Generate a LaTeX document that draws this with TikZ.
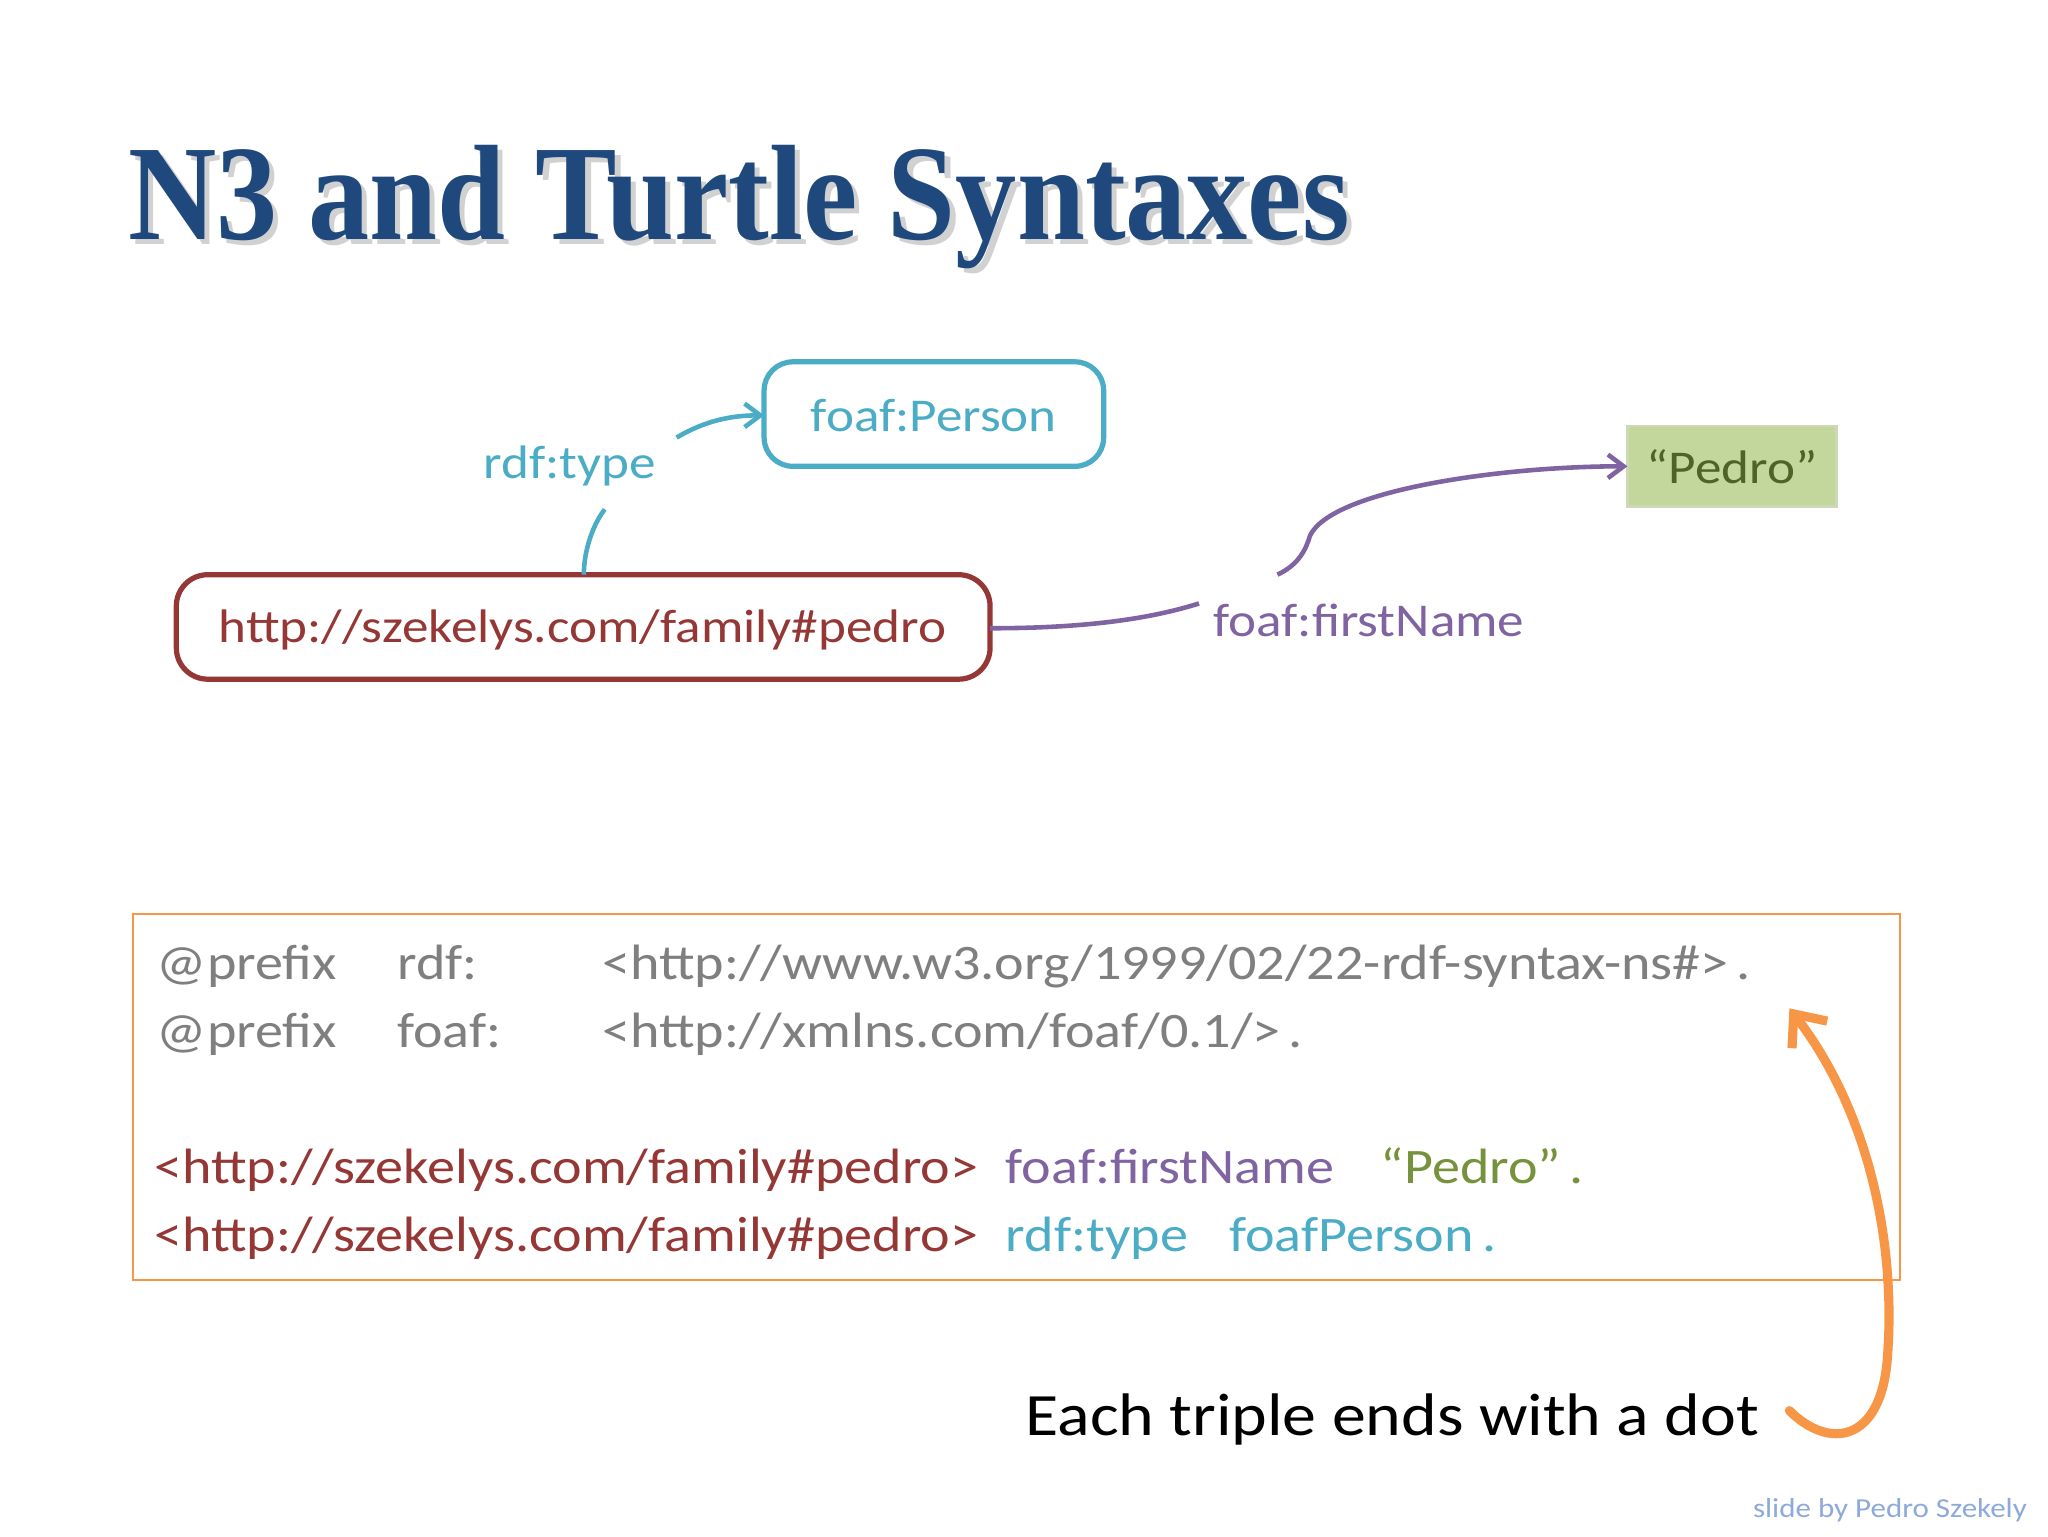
\documentclass[tikz,border=0pt]{standalone}
\usepackage{fontspec}
\setmainfont{Carlito}[FakeStretch=1.13]
\newfontfamily\titlefont{Liberation Serif}[FakeStretch=0.9]
\usetikzlibrary{arrows.meta}
\definecolor{tblue}{HTML}{1F497D}
\definecolor{teal}{HTML}{4BACC6}
\definecolor{dred}{HTML}{953735}
\definecolor{purp}{HTML}{8064A2}
\definecolor{oliv}{HTML}{4F6228}
\definecolor{lgreen}{HTML}{C3D69B}
\definecolor{orng}{HTML}{F79646}
\definecolor{codegray}{HTML}{7F7F7F}
\definecolor{codegreen}{HTML}{76923C}
\definecolor{foot}{HTML}{8EA9DB}
\tikzset{
  code/.style={anchor=base west,inner sep=0pt,font=\fontsize{38}{42}\selectfont,text=codegray},
  ttl/.style={anchor=base west,inner sep=0pt,font=\titlefont\bfseries\fontsize{104}{110}\selectfont},
}
\begin{document}
\begin{tikzpicture}[x=1pt,y=-1pt]
\useasboundingbox[fill=white] (0,0) rectangle (1568,1176);
% title
\node[ttl,text=black!18] at (102,187) {N3 and Turtle Syntaxes};
\node (title)[ttl,text=tblue] at (98,183) {N3 and Turtle Syntaxes};
% boxes
\draw[teal,line width=4pt,rounded corners=22pt] (585,277) rectangle (845,357);
\node (person)[text=teal,font=\fontsize{36}{40}\selectfont] at (715,318) {foaf:Person};
\draw[dred,line width=4pt,rounded corners=24pt] (135,440) rectangle (758,520);
\node (uri)[text=dred,font=\fontsize{36}{40}\selectfont] at (446,482) {http://szekelys.com/family\#pedro};
\draw[lgreen!80!oliv!60,fill=lgreen,line width=2pt] (1246,326) rectangle (1406,388);
\node (pedro)[text=oliv,font=\fontsize{36}{40}\selectfont] at (1326,357) {“Pedro”};
\node (rdft)[text=teal,font=\fontsize{36}{40}\selectfont] at (436,357) {rdf:type};
\node (fn)[text=purp,font=\fontsize{36}{40}\selectfont] at (1048,475) {foaf:firstName};
% connectors
\coordinate (a1) at (447,440); \coordinate (a2) at (463,390);
\coordinate (a3) at (518,335); \coordinate (a4) at (585,318);
\draw[teal,line width=3.5pt] (a1) .. controls (447,420) and (455,400) .. (a2);
\draw[teal,line width=3.5pt,-{Straight Barb[length=12pt,width=18pt]}] (a3) .. controls (540,322) and (560,318) .. (a4);
\coordinate (b1) at (758,481); \coordinate (b2) at (918,462);
\coordinate (b3) at (978,440); \coordinate (b4) at (1246,357);
\draw[purp,line width=3.5pt] (b1) .. controls (830,481) and (880,474) .. (b2);
\draw[purp,line width=3.5pt,-{Straight Barb[length=12pt,width=18pt]}] (b3) .. controls (995,432) and (1000,420) .. (1003,410) .. controls (1020,375) and (1150,357) .. (b4);
% code box
\draw[orng,line width=1.5pt] (102,700) rectangle (1455,980);
\node[code] at (120,750) {@prefix};
\node[code] at (304,750) {rdf:};
\node[code] at (461,750) {<http://www.w3.org/1999/02/22-rdf-syntax-ns\#>\,.};
\node[code] at (120,802) {@prefix};
\node[code] at (304,802) {foaf:};
\node[code] at (461,802) {<http://xmlns.com/foaf/0.1/>\,.};
\node[code,text=dred] at (118,906) {<http://szekelys.com/family\#pedro>};
\node[code,text=purp] at (770,906) {foaf:firstName};
\node[code,text=codegreen] at (1057,906) {“Pedro”\,.};
\node[code,text=dred] at (118,958) {<http://szekelys.com/family\#pedro>};
\node[code,text=teal] at (770,958) {rdf:type};
\node[code,text=teal] at (941,958) {foafPerson\,.};
% note
\node (note)[anchor=base west,inner sep=0pt,font=\fontsize{46}{50}\selectfont] at (785,1099) {Each triple ends with a dot};
\coordinate (c1) at (1370,1080); \coordinate (c2) at (1370,772);
\draw[orng,line width=7pt,line cap=round,-{Straight Barb[length=20pt,width=34pt]}] (c1) .. controls (1400,1110) and (1440,1105) .. (1445,1040) .. controls (1452,950) and (1430,850) .. (c2);
\node[anchor=base east,inner sep=0pt,text=foot,font=\fontsize{21}{24}\selectfont] at (1552,1162) {slide by Pedro Szekely};
\end{tikzpicture}
\end{document}
